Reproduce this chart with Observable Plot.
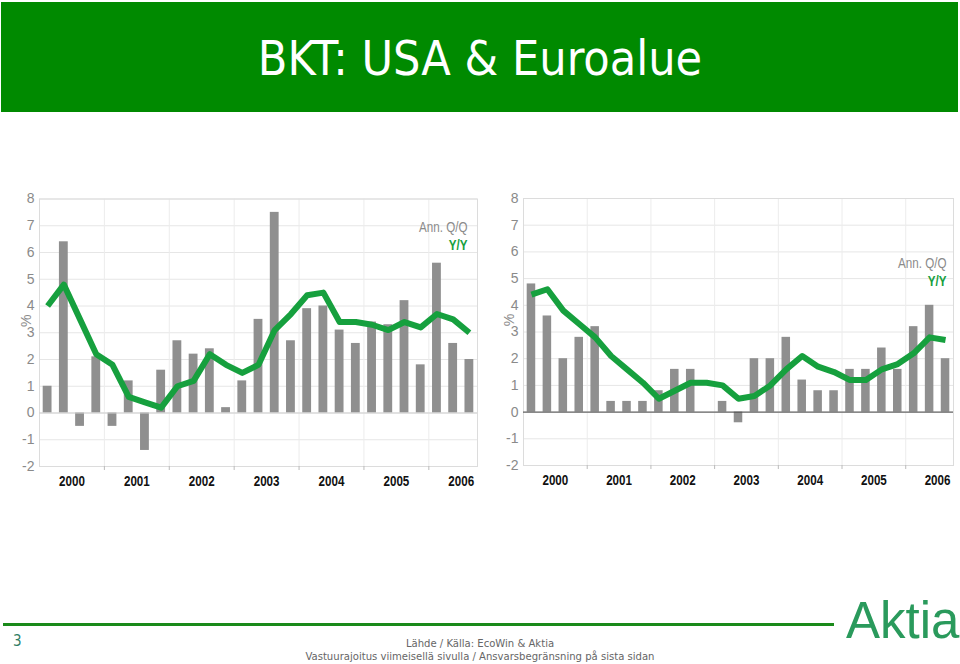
<!DOCTYPE html>
<html><head><meta charset="utf-8">
<script src="https://cdn.jsdelivr.net/npm/d3@7"></script>
<script src="https://cdn.jsdelivr.net/npm/@observablehq/plot@0.6"></script>
<style>
body{margin:0;width:960px;height:664px;position:relative;background:#fff;overflow:hidden;font-family:"Liberation Sans",Arial,sans-serif}
#banner{position:absolute;left:1px;top:2px;width:957px;height:110px;background:#008a00;}
#title{position:absolute;left:0;top:2px;width:960px;height:110px;line-height:112px;text-align:center;color:#fff;font-family:"DejaVu Sans Condensed","DejaVu Sans",sans-serif;font-stretch:condensed;font-size:48px}
.chart{position:absolute;top:180px}
#usa{left:0}
#euro{left:480px}
#rule{position:absolute;left:3px;top:623px;width:831px;height:3px;background:#1a8a1a}
#page{position:absolute;left:13px;top:632px;font-size:15px;color:#2e7d64;font-family:"DejaVu Sans Condensed","DejaVu Sans",sans-serif}
#src{position:absolute;left:0;width:960px;top:637px;text-align:center;font-family:"DejaVu Sans Condensed","DejaVu Sans",sans-serif;font-size:11.2px;color:#666;line-height:13px}
#logo{position:absolute;left:846px;top:593px;font-size:51px;line-height:56px;color:#2a9a5c;font-family:"Liberation Sans",Arial,sans-serif}
</style>
</head>
<body>
<div id="banner"></div>
<div id="title">BKT: USA &amp; Euroalue</div>
<div id="usa" class="chart"></div>
<div id="euro" class="chart"></div>
<div id="rule"></div>
<div id="page">3</div>
<div id="src">Lähde / Källa: EcoWin &amp; Aktia<br>Vastuurajoitus viimeisellä sivulla / Ansvarsbegränsning på sista sidan</div>
<div id="logo">Aktia</div>
<script>
const quarters = ["2000Q1","2000Q2","2000Q3","2000Q4","2001Q1","2001Q2","2001Q3","2001Q4",
  "2002Q1","2002Q2","2002Q3","2002Q4","2003Q1","2003Q2","2003Q3","2003Q4",
  "2004Q1","2004Q2","2004Q3","2004Q4","2005Q1","2005Q2","2005Q3","2005Q4",
  "2006Q1","2006Q2","2006Q3"];
const years = [2000,2001,2002,2003,2004,2005,2006];
const yTicks = [-2,-1,0,1,2,3,4,5,6,7,8];
const usaQQ = [1.0,6.4,-0.5,2.1,-0.5,1.2,-1.4,1.6,2.7,2.2,2.4,0.2,1.2,3.5,7.5,2.7,3.9,4.0,3.1,2.6,3.4,3.3,4.2,1.8,5.6,2.6,2.0];
const usaYY = [4.0,4.8,3.5,2.2,1.8,0.6,0.4,0.2,1.0,1.2,2.2,1.8,1.5,1.8,3.1,3.7,4.4,4.5,3.4,3.4,3.3,3.1,3.4,3.2,3.7,3.5,3.0];
const euroQQ = [4.8,3.6,2.0,2.8,3.2,0.4,0.4,0.4,0.8,1.6,1.6,0.0,0.4,-0.4,2.0,2.0,2.8,1.2,0.8,0.8,1.6,1.6,2.4,1.6,3.2,4.0,2.0];
const euroYY = [4.4,4.6,3.8,3.3,2.8,2.1,1.6,1.1,0.5,0.8,1.1,1.1,1.0,0.5,0.6,1.0,1.6,2.1,1.7,1.5,1.2,1.2,1.6,1.8,2.2,2.8,2.7];
const legendQQ = "Ann. Q/Q", legendYY = "Y/Y", unit = "%";

const GRAY = "#8f8f8f", GREEN = "#16a03e", TXT = "#8a8a8a";
const NARROW = '"Liberation Sans Narrow","Arial Narrow","Liberation Sans",Arial,sans-serif';

function table(qq, yy) {
  return quarters.map((q, i) => {
    const yr = +q.slice(0, 4), qn = +q.slice(5);
    const start = yr + (qn - 1) / 4;
    return {start, end: start + 0.25, mid: start + 0.125, qq: qq[i], yy: yy[i]};
  });
}

function chart(qq, yy, m, zeroColor, legendDy) {
  const data = table(qq, yy);
  const svg = Plot.plot({
    width: 480, height: 320,
    marginLeft: m.left, marginRight: m.right, marginTop: m.top, marginBottom: m.bottom,
    style: {fontFamily: NARROW, background: "transparent", overflow: "visible"},
    x: {domain: [2000, 2006.75], axis: null},
    y: {domain: [-2, 8], axis: null},
    marks: [
      Plot.gridY(yTicks, {stroke: "#e6e6e6", strokeOpacity: 1}),
      Plot.gridX(years.slice(1), {stroke: "#ececec", strokeOpacity: 1}),
      Plot.frame({stroke: "#dcdcdc"}),
      Plot.axisY(yTicks, {tickSize: 0, tickPadding: 5, color: TXT, fontSize: 14, label: null, tickFormat: d => String(d)}),
      Plot.axisX(years.slice(1), {tickSize: 4, tickFormat: () => "", stroke: "#bbb", label: null}),
      Plot.axisX(years.map(d => d + 0.5), {tickSize: 0, tickPadding: 10, tickFormat: d => String(Math.floor(d)),
        fontSize: 14, fontWeight: "bold", color: "#111", label: null, ariaLabel: "narrow year"}),
      Plot.rectY(data, {x1: "start", x2: "end", y1: 0, y2: "qq", fill: GRAY, insetLeft: 3.7, insetRight: 3.7}),
      Plot.ruleY([0], {stroke: zeroColor, strokeWidth: 1}),
      Plot.line(data, {x: "mid", y: "yy", stroke: GREEN, strokeWidth: 6, strokeLinejoin: "round", strokeLinecap: "butt"}),
      Plot.text([unit], {frameAnchor: "left", dx: m.pctDx, dy: -12, rotate: -90, textAnchor: "middle", lineAnchor: "middle", fill: TXT, fontSize: 14}),
      Plot.text([legendQQ], {frameAnchor: "top-right", dx: m.legDx, dy: legendDy, textAnchor: "end", lineAnchor: "middle", fill: TXT, fontSize: 14, className: "narrowtxt"}),
      Plot.text([legendYY], {frameAnchor: "top-right", dx: m.legDx, dy: legendDy + 18, textAnchor: "end", lineAnchor: "middle", fill: GREEN, fontSize: 14, fontWeight: "bold", className: "narrowtxt"})
    ]
  });
  // emulate a narrow (Arial Narrow-like) face for the labels
  const targets = new Set();
  svg.querySelectorAll('[aria-label^="narrow"], .narrowtxt').forEach(el => {
    if (el.tagName.toLowerCase() === "text") targets.add(el);
    el.querySelectorAll("text").forEach(t => targets.add(t));
  });
  targets.forEach(t => {
    const tr = t.getAttribute("transform");
    if (tr) t.setAttribute("transform", tr + " scale(0.83,1)");
  });
  return svg;
}

document.getElementById("usa").append(
  chart(usaQQ, usaYY, {left: 39, right: 3, top: 18.5, bottom: 34, pctDx: -13, legDx: -10}, "#cfcfcf", 29));
document.getElementById("euro").append(
  chart(euroQQ, euroYY, {left: 43, right: 7, top: 18, bottom: 35, pctDx: -14, legDx: -7}, "#444", 65));
</script>
</body></html>
